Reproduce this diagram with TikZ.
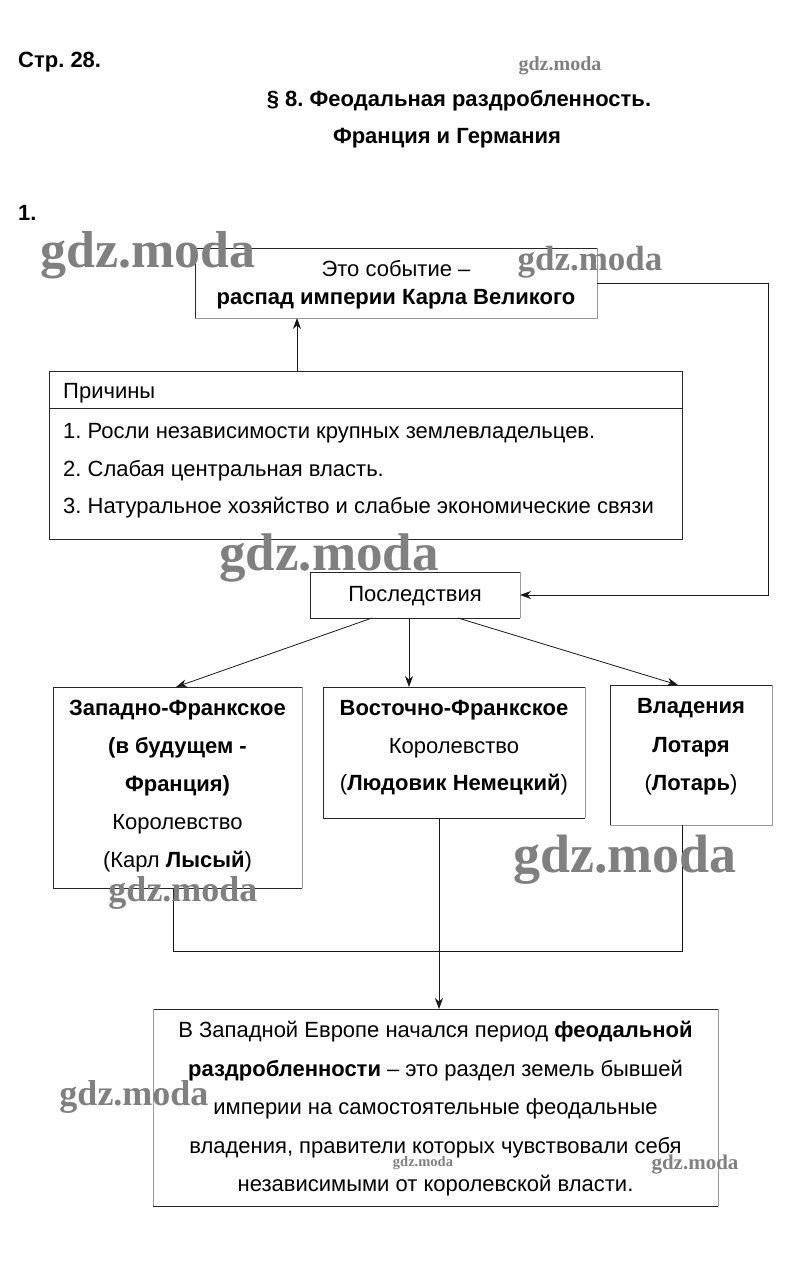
\documentclass[tikz,border=0pt]{standalone}
\usepackage{fontspec}
\setmainfont{Liberation Sans}
\newfontfamily\wmfont{Liberation Serif}
\usetikzlibrary{arrows.meta}
\newcommand\mfs{\fontsize{22}{26}\selectfont}
\frenchspacing
\begin{document}
\begin{tikzpicture}[x=1pt,y=-1pt,
  boxshape/.style={rectangle, inner sep=0pt, outer sep=0pt, draw=none},
  dk/.style={draw=black!85, line width=0.8pt},
  lt/.style={draw=black!40, line width=0.8pt},
  txt/.style={anchor=base, inner sep=0pt, font=\mfs},
  btxt/.style={anchor=base, inner sep=0pt, font=\mfs\bfseries},
  conn/.style={draw=black!90, line width=0.8pt},
  arr/.style={conn, -{Stealth[length=11pt,width=8pt]}},
  wm/.style={inner sep=0pt, anchor=center, text=black!50}
]
\useasboundingbox (0,0) rectangle (794,1262);
\fill[white] (0,0) rectangle (794,1262);

% header
\node[btxt, anchor=base west] (page) at (18,67) {Стр. 28.};
\node[btxt] (title1) at (459,106) {§ 8. Феодальная раздробленность.};
\node[btxt] (title2) at (447,143) {Франция и Германия};
\node[btxt, anchor=base west] (num) at (18,220) {1.};

% event box
\node[boxshape, minimum width=402pt, minimum height=70pt] (event) at (396,283) {};
\draw[dk] (event.south west) -- (event.north west) -- (event.north east);
\draw[lt] (event.north east) -- (event.south east) -- (event.south west);
\node[txt] (eventA) at (396,276) {Это событие –};
\node[btxt] (eventB) at (396,304) {распад империи Карла Великого};

% causes box
\node[boxshape, minimum width=633pt, minimum height=168pt] (causes) at (365.5,455) {};
\draw[dk] (causes.south west) rectangle (causes.north east);
\draw[dk] ([yshift=-37pt]causes.north west) -- ([yshift=-37pt]causes.north east);
\node[txt, anchor=base west] (causesT) at (63,398) {Причины};
\node[txt, anchor=base west] (c1t) at (63,438) {1. Росли независимости крупных землевладельцев.};
\node[txt, anchor=base west] (c2t) at (63,476) {2. Слабая центральная власть.};
\node[txt, anchor=base west] (c3t) at (63,513) {3. Натуральное хозяйство и слабые экономические связи};

% consequences box
\node[boxshape, minimum width=210pt, minimum height=46pt] (cons) at (415,595) {};
\draw[dk] (cons.north east) -- (cons.north west) -- (cons.south west) -- (cons.south east);
\draw[lt] (cons.north east) -- (cons.south east);
\node[txt] (consT) at (415,601) {Последствия};

% three kingdoms
\node[boxshape, minimum width=249pt, minimum height=201pt] (west) at (177.5,787.5) {};
\draw[dk] (west.north east) -- (west.north west) -- (west.south west) -- (west.south east);
\draw[lt] (west.north east) -- (west.south east);
\node[btxt] (w1t) at (177.5,715) {Западно-Франкское};
\node[btxt] (w2t) at (177.5,753) {(в будущем -};
\node[btxt] (w3t) at (177.5,791) {Франция)};
\node[txt] (w4t) at (177.5,829) {Королевство};
\node[txt] (w5t) at (177.5,867) {(Карл \textbf{Лысый})};

\node[boxshape, minimum width=262pt, minimum height=131pt] (east) at (454,752.5) {};
\draw[dk] (east.north east) -- (east.north west) -- (east.south west) -- (east.south east);
\draw[lt] (east.north east) -- (east.south east);
\node[btxt] (e1t) at (454,715) {Восточно-Франкское};
\node[txt] (e2t) at (454,753) {Королевство};
\node[txt] (e3t) at (454,790) {(\textbf{Людовик Немецкий})};

\node[boxshape, minimum width=162pt, minimum height=140pt] (loth) at (691,755) {};
\draw[dk] (loth.south west) -- (loth.north west) -- (loth.north east);
\draw[lt] (loth.north east) -- (loth.south east) -- (loth.south west);
\node[btxt] (l1t) at (691,713) {Владения};
\node[btxt] (l2t) at (691,752) {Лотаря};
\node[txt] (l3t) at (691,790) {(\textbf{Лотарь})};

% bottom box
\node[boxshape, minimum width=565pt, minimum height=197pt] (bot) at (435.5,1107.5) {};
\draw[dk] (bot.north west) -- (bot.north east);
\draw[dk] (bot.south west) -- (bot.south east);
\draw[lt] (bot.north west) -- (bot.south west);
\draw[lt] (bot.north east) -- (bot.south east);
\node[txt] (b1t) at (435.5,1037) {В Западной Европе начался период \textbf{феодальной}};
\node[txt] (b2t) at (435.5,1076) {\textbf{раздробленности} – это раздел земель бывшей};
\node[txt] (b3t) at (435.5,1114) {империи на самостоятельные феодальные};
\node[txt] (b4t) at (435.5,1153) {владения, правители которых чувствовали себя};
\node[txt] (b5t) at (435.5,1191) {независимыми от королевской власти.};

% connectors
\coordinate (cu) at ([xshift=248pt]causes.north west);
\draw[arr] (cu) -- (cu |- event.south);
\coordinate (rt) at (768,283);
\draw[arr] (event.east) -- (rt) |- (cons.east);
\draw[arr] ([xshift=62pt]cons.south west) -- ([xshift=123pt]west.north west);
\coordinate (cm) at ([xshift=99pt]cons.south west);
\draw[arr] (cm) -- (cm |- east.north);
\draw[arr] ([xshift=148pt]cons.south west) -- ([xshift=68pt]loth.north west);
\coordinate (wb) at ([xshift=120pt]west.south west);
\coordinate (lb) at ([xshift=72pt]loth.south west);
\coordinate (jn) at (439,951);
\draw[conn] (wb) |- (jn) -| (lb);
\coordinate (eb) at ([xshift=116pt]east.south west);
\draw[arr] (eb) -- (eb |- bot.north);

% watermarks
\node[wm, font=\wmfont\bfseries\fontsize{52}{52}\selectfont] (wm1) at (148,255) {gdz.moda};
\node[wm, font=\wmfont\bfseries\fontsize{35}{35}\selectfont] (wm2) at (590,262) {gdz.moda};
\node[wm, font=\wmfont\bfseries\fontsize{20}{20}\selectfont] (wm3) at (560,66) {gdz.moda};
\node[wm, font=\wmfont\bfseries\fontsize{53}{53}\selectfont] (wm4) at (329,558) {gdz.moda};
\node[wm, font=\wmfont\bfseries\fontsize{54}{54}\selectfont] (wm5) at (625,860) {gdz.moda};
\node[wm, font=\wmfont\bfseries\fontsize{36}{36}\selectfont] (wm6) at (183,893) {gdz.moda};
\node[wm, font=\wmfont\bfseries\fontsize{36}{36}\selectfont] (wm7) at (134,1097) {gdz.moda};
\node[wm, font=\wmfont\bfseries\fontsize{14.5}{14.5}\selectfont] (wm8) at (423,1163) {gdz.moda};
\node[wm, font=\wmfont\bfseries\fontsize{21}{21}\selectfont] (wm9) at (695,1165) {gdz.moda};
\end{tikzpicture}
\end{document}
